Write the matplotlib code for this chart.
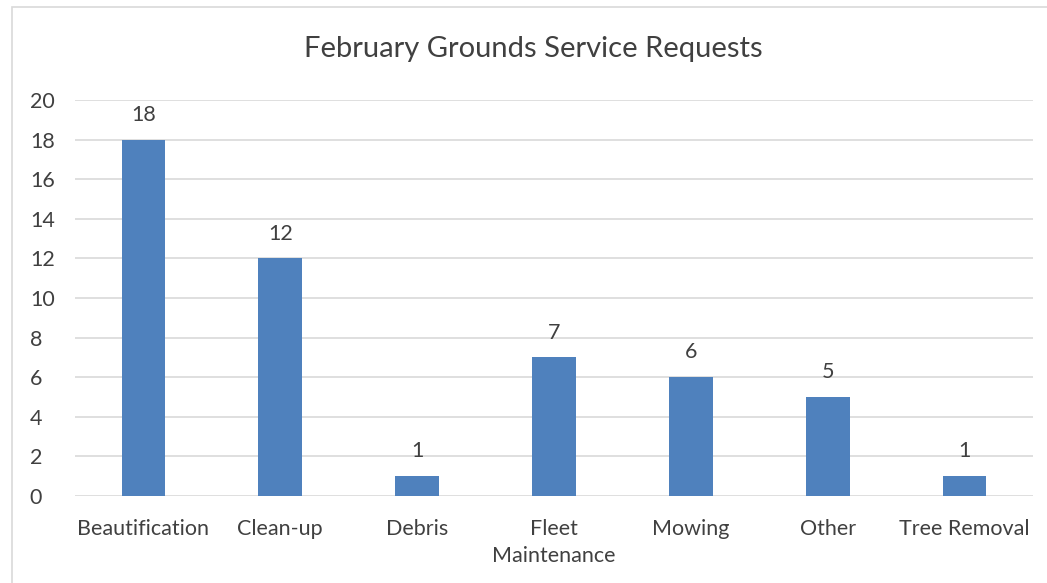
import matplotlib.pyplot as plt
from matplotlib.patches import Rectangle

categories = ['Beautification', 'Clean-up', 'Debris', 'Fleet\nMaintenance', 'Mowing', 'Other', 'Tree Removal']
requests = [18, 12, 1, 7, 6, 5, 1]
yticks = [0, 2, 4, 6, 8, 10, 12, 14, 16, 18, 20]

txtColor = '#404040'
plt.rcParams['font.family'] = ['Lato', 'DejaVu Sans']

fig = plt.figure(figsize=(10.47, 5.83), dpi=100)
# chart border
fig.patches.append(Rectangle((12/1047, -0.1), 1.2, 1 - 7/583 + 0.1, transform=fig.transFigure,
                             fill=False, edgecolor='#d9d9d9', linewidth=1.2))
ax = fig.add_axes([75/1047, 1 - 496/583, 958/1047, 396/583])

x = range(len(categories))
bars = ax.bar(x, requests, width=0.32, color='#4f81bd', zorder=3)
for xi, v in zip(x, requests):
    ax.text(xi, v + 0.75, str(v), ha='center', va='bottom', fontsize=15.5, color=txtColor)

ax.set_xlim(-0.5, len(categories) - 0.5)
ax.set_ylim(0, 20)
ax.set_yticks(yticks)
ax.set_xticks(list(x))
ax.set_xticklabels(categories, linespacing=1.45)
ax.tick_params(axis='both', length=0, labelsize=15.5, colors=txtColor)
ax.tick_params(axis='x', pad=16.5)
ax.tick_params(axis='y', pad=32.5)
for lab in ax.get_yticklabels():
    lab.set_horizontalalignment('left')
ax.grid(axis='y', color='#d9d9d9', linewidth=1.2, zorder=0)
for s in ax.spines.values():
    s.set_visible(False)

fig.text(0.5 + 10/1047, 1 - 49/583, 'February Grounds Service Requests', ha='center', va='center',
         fontsize=21, color=txtColor)

plt.savefig('out.png', dpi=100)
